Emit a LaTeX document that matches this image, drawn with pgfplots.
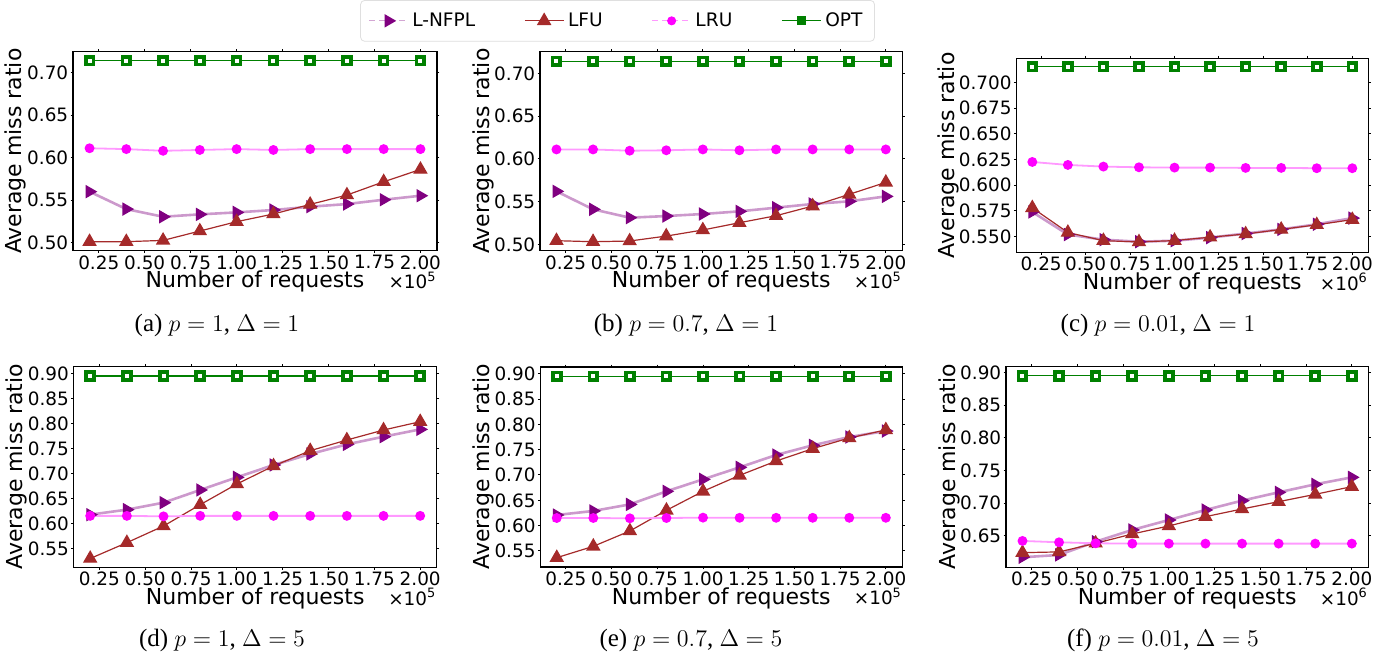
\documentclass[border=0pt]{standalone}
\usepackage{pgfplots}
\usepackage{pgfplotstable}
\pgfplotsset{compat=1.18}
\usepackage{fontspec}
\setmainfont{DejaVu Sans}
\newfontfamily\capfont{Liberation Serif}
\definecolor{optgreen}{RGB}{0,128,0}
\definecolor{lfubrown}{RGB}{165,42,42}
\definecolor{nfplpurple}{RGB}{128,0,128}
\definecolor{lrumag}{RGB}{255,0,255}
\newcommand{\tickfont}{\fontsize{9.2}{10.5}\selectfont}
\newcommand{\labfont}{\fontsize{11}{13}\selectfont}
\newcommand{\legfont}{\fontsize{9.3}{11}\selectfont}
\newcommand{\cfont}{\capfont\fontsize{12.5}{14}\selectfont}

\pgfplotstableread{
x nfpl lfu lru opt
0.2 0.5600 0.5012 0.6110 0.7140
0.4 0.5395 0.5012 0.6100 0.7140
0.6 0.5305 0.5027 0.6080 0.7140
0.8 0.5333 0.5137 0.6090 0.7140
1.0 0.5356 0.5247 0.6100 0.7140
1.2 0.5384 0.5337 0.6090 0.7140
1.4 0.5423 0.5450 0.6100 0.7140
1.6 0.5454 0.5560 0.6100 0.7140
1.8 0.5505 0.5716 0.6100 0.7140
2.0 0.5552 0.5861 0.6100 0.7140
}\tA
\pgfplotstableread{
x nfpl lfu lru opt
0.2 0.5620 0.5043 0.6110 0.7140
0.4 0.5410 0.5031 0.6110 0.7140
0.6 0.5312 0.5039 0.6095 0.7140
0.8 0.5331 0.5097 0.6100 0.7140
1.0 0.5355 0.5168 0.6110 0.7140
1.2 0.5386 0.5253 0.6100 0.7140
1.4 0.5429 0.5335 0.6110 0.7140
1.6 0.5472 0.5448 0.6110 0.7140
1.8 0.5503 0.5585 0.6110 0.7140
2.0 0.5561 0.5725 0.6110 0.7140
}\tB
\pgfplotstableread{
x nfpl lfu lru opt
0.2 0.5740 0.5780 0.6227 0.7156
0.4 0.5520 0.5540 0.6198 0.7156
0.6 0.5470 0.5460 0.6182 0.7156
0.8 0.5450 0.5448 0.6175 0.7156
1.0 0.5460 0.5461 0.6172 0.7156
1.2 0.5490 0.5494 0.6172 0.7156
1.4 0.5530 0.5525 0.6169 0.7156
1.6 0.5570 0.5570 0.6169 0.7156
1.8 0.5620 0.5615 0.6166 0.7156
2.0 0.5680 0.5665 0.6166 0.7156
}\tC
\pgfplotstableread{
x nfpl lfu lru opt
0.2 0.6184 0.5310 0.6160 0.8947
0.4 0.6284 0.5626 0.6160 0.8947
0.6 0.6423 0.5958 0.6150 0.8947
0.8 0.6676 0.6383 0.6160 0.8947
1.0 0.6928 0.6795 0.6160 0.8947
1.2 0.7174 0.7154 0.6160 0.8947
1.4 0.7393 0.7459 0.6160 0.8947
1.6 0.7585 0.7672 0.6160 0.8947
1.8 0.7738 0.7871 0.6160 0.8947
2.0 0.7884 0.8037 0.6160 0.8947
}\tD
\pgfplotstableread{
x nfpl lfu lru opt
0.2 0.6210 0.5368 0.6151 0.8947
0.4 0.6290 0.5592 0.6151 0.8947
0.6 0.6420 0.5895 0.6145 0.8947
0.8 0.6678 0.6303 0.6151 0.8947
1.0 0.6914 0.6678 0.6158 0.8947
1.2 0.7151 0.6993 0.6155 0.8947
1.4 0.7395 0.7276 0.6155 0.8947
1.6 0.7586 0.7520 0.6155 0.8947
1.8 0.7750 0.7730 0.6155 0.8947
2.0 0.7868 0.7890 0.6155 0.8947
}\tE
\pgfplotstableread{
x nfpl lfu lru opt
0.2 0.6174 0.6245 0.6424 0.8949
0.4 0.6210 0.6256 0.6403 0.8949
0.6 0.6413 0.6388 0.6388 0.8949
0.8 0.6592 0.6530 0.6383 0.8949
1.0 0.6744 0.6653 0.6383 0.8949
1.2 0.6897 0.6795 0.6383 0.8949
1.4 0.7040 0.6912 0.6383 0.8949
1.6 0.7167 0.7024 0.6383 0.8949
1.8 0.7289 0.7136 0.6383 0.8949
2.0 0.7396 0.7254 0.6383 0.8949
}\tF

\pgfplotsset{
  nfpl/.style={draw=nfplpurple!40, line width=1.3pt, mark=triangle*, mark size=3.3pt,
    mark options={rotate=-90, fill=nfplpurple, draw=nfplpurple, line width=0.6pt, solid}},
  lfu/.style={draw=lfubrown, line width=0.6pt, mark=triangle*, mark size=3.6pt,
    mark options={fill=lfubrown, draw=lfubrown, line width=0.6pt, solid}},
  lru/.style={draw=lrumag!40, line width=0.9pt, mark=*, mark size=2pt,
    mark options={fill=lrumag, draw=lrumag, solid}},
  opt/.style={draw=optgreen, line width=0.6pt, mark=square*, mark size=1.95pt,
    mark options={fill=white, draw=optgreen, line width=1.9pt, solid}},
  myax/.style={
    scale only axis, clip=false,
    xmin=0.11, xmax=2.09,
    xtick={0.25,0.5,0.75,1,1.25,1.5,1.75,2},
    tick align=outside, major tick length=1.2pt,
    tick style={black, line width=0.5pt},
    axis line style={line width=0.6pt},
    scaled ticks=false,
    /pgf/number format/assume math mode=true,
    ticklabel style={font=\tickfont},
    xticklabel style={/pgf/number format/fixed, /pgf/number format/fixed zerofill,
      /pgf/number format/precision=2, inner sep=1pt},
    yticklabel style={/pgf/number format/fixed, /pgf/number format/fixed zerofill,
      /pgf/number format/precision=2, inner sep=1pt},
    xlabel={Number of requests}, ylabel={Average miss ratio},
    label style={font=\labfont},
    xlabel style={at={(axis description cs:0.5,0)}, anchor=center, yshift=-15.5pt},
    legend image code/.code={\draw[mark repeat=2,mark phase=2] plot coordinates {(0cm,0cm) (0.34cm,0cm) (0.68cm,0cm)};},
  },
}

\begin{document}
\begin{tikzpicture}
\useasboundingbox (0,0) rectangle (693.5pt,329pt);

% (a)
\begin{axis}[myax, at={(36.5pt,203.65pt)}, anchor=south west, width=182pt, height=99.5pt,
  ymin=0.4906, ymax=0.7245, ytick={0.5,0.55,0.6,0.65,0.7},
  ylabel style={at={(axis description cs:-0.157,0.5)}, anchor=center},
  legend columns=4,
  legend style={at={(1.496,1.155)}, anchor=center, draw=gray!25, rounded corners=2pt,
    font=\legfont, inner xsep=4pt, inner ysep=4pt,
    /tikz/every even column/.append style={column sep=22.5pt}},
  legend cell align=left]
\addlegendimage{nfpl, densely dashed, draw=nfplpurple!35, line width=0.5pt}
\addlegendentry{L-NFPL}
\addlegendimage{lfu}
\addlegendentry{LFU}
\addlegendimage{lru, densely dashed, line width=0.5pt}
\addlegendentry{LRU}
\addlegendimage{opt, mark options={fill=optgreen, draw=optgreen, line width=0.5pt, solid}}
\addlegendentry{OPT}
\addplot[nfpl, forget plot] table[x=x,y=nfpl]{\tA};
\addplot[lfu, forget plot] table[x=x,y=lfu]{\tA};
\addplot[lru, forget plot] table[x=x,y=lru]{\tA};
\addplot[opt, forget plot] table[x=x,y=opt]{\tA};
\node[anchor=east, font=\tickfont, inner sep=0pt, yshift=-14.8pt] at (rel axis cs:1,0) {×10\textsuperscript{5}};
\end{axis}

% (b)
\begin{axis}[myax, at={(270pt,203.65pt)}, anchor=south west, width=181.15pt, height=99.5pt,
  ymin=0.4926, ymax=0.7253, ytick={0.5,0.55,0.6,0.65,0.7},
  ylabel style={at={(axis description cs:-0.157,0.5)}, anchor=center}]
\addplot[nfpl] table[x=x,y=nfpl]{\tB};
\addplot[lfu] table[x=x,y=lfu]{\tB};
\addplot[lru] table[x=x,y=lru]{\tB};
\addplot[opt] table[x=x,y=opt]{\tB};
\node[anchor=east, font=\tickfont, inner sep=0pt, yshift=-14.8pt] at (rel axis cs:1,0) {×10\textsuperscript{5}};
\end{axis}

% (c)
\begin{axis}[myax, at={(508.15pt,202.85pt)}, anchor=south west, width=176pt, height=97pt,
  ymin=0.5347, ymax=0.7237, ytick={0.55,0.575,0.6,0.625,0.65,0.675,0.7},
  yticklabel style={/pgf/number format/precision=3},
  ylabel style={at={(axis description cs:-0.193,0.5)}, anchor=center}]
\addplot[nfpl] table[x=x,y=nfpl]{\tC};
\addplot[lfu] table[x=x,y=lfu]{\tC};
\addplot[lru] table[x=x,y=lru]{\tC};
\addplot[opt] table[x=x,y=opt]{\tC};
\node[anchor=east, font=\tickfont, inner sep=0pt, yshift=-14.8pt] at (rel axis cs:1,0) {×10\textsuperscript{6}};
\end{axis}

% (d)
\begin{axis}[myax, at={(36.85pt,45.35pt)}, anchor=south west, width=181.5pt, height=100.3pt,
  ymin=0.5135, ymax=0.9133, ytick={0.55,0.6,0.65,0.7,0.75,0.8,0.85,0.9},
  ylabel style={at={(axis description cs:-0.157,0.5)}, anchor=center}]
\addplot[nfpl] table[x=x,y=nfpl]{\tD};
\addplot[lfu] table[x=x,y=lfu]{\tD};
\addplot[lru] table[x=x,y=lru]{\tD};
\addplot[opt] table[x=x,y=opt]{\tD};
\node[anchor=east, font=\tickfont, inner sep=0pt, yshift=-14.8pt] at (rel axis cs:1,0) {×10\textsuperscript{5}};
\end{axis}

% (e)
\begin{axis}[myax, at={(270.15pt,45.5pt)}, anchor=south west, width=181pt, height=100pt,
  ymin=0.5184, ymax=0.9132, ytick={0.55,0.6,0.65,0.7,0.75,0.8,0.85,0.9},
  ylabel style={at={(axis description cs:-0.157,0.5)}, anchor=center}]
\addplot[nfpl] table[x=x,y=nfpl]{\tE};
\addplot[lfu] table[x=x,y=lfu]{\tE};
\addplot[lru] table[x=x,y=lru]{\tE};
\addplot[opt] table[x=x,y=opt]{\tE};
\node[anchor=east, font=\tickfont, inner sep=0pt, yshift=-14.8pt] at (rel axis cs:1,0) {×10\textsuperscript{5}};
\end{axis}

% (f)
\begin{axis}[myax, at={(503pt,45.35pt)}, anchor=south west, width=181.15pt, height=100.3pt,
  ymin=0.6021, ymax=0.9087, ytick={0.65,0.7,0.75,0.8,0.85,0.9},
  ylabel style={at={(axis description cs:-0.157,0.5)}, anchor=center}]
\addplot[nfpl] table[x=x,y=nfpl]{\tF};
\addplot[lfu] table[x=x,y=lfu]{\tF};
\addplot[lru] table[x=x,y=lru]{\tF};
\addplot[opt] table[x=x,y=opt]{\tF};
\node[anchor=east, font=\tickfont, inner sep=0pt, yshift=-14.8pt] at (rel axis cs:1,0) {×10\textsuperscript{6}};
\end{axis}

% captions
\node[font=\cfont] at (108.5pt,166.5pt) {(a) $p=1$, $\Delta=1$};
\node[font=\cfont] at (343pt,166.5pt) {(b) $p=0.7$, $\Delta=1$};
\node[font=\cfont] at (579pt,166.5pt) {(c) $p=0.01$, $\Delta=1$};
\node[font=\cfont] at (111pt,9pt) {(d) $p=1$, $\Delta=5$};
\node[font=\cfont] at (345.5pt,9pt) {(e) $p=0.7$, $\Delta=5$};
\node[font=\cfont] at (581.5pt,9pt) {(f) $p=0.01$, $\Delta=5$};
\end{tikzpicture}
\end{document}
